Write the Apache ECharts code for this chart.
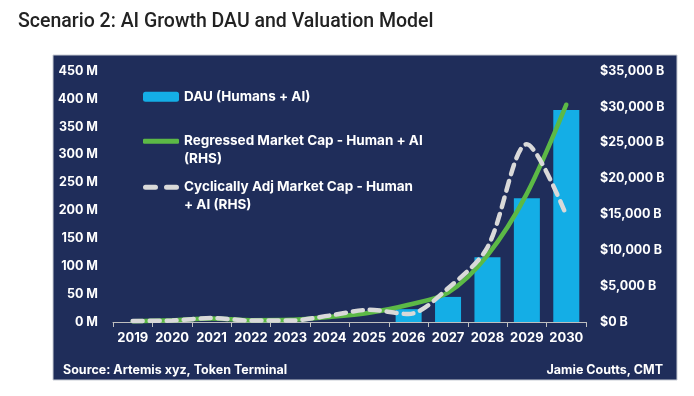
<!DOCTYPE html>
<html><head><meta charset="utf-8">
<script src="https://cdn.jsdelivr.net/npm/echarts@6/dist/echarts.min.js"></script>
<style>html,body{margin:0;padding:0;background:#fff}#c{width:694px;height:396px}</style>
</head><body><div id="c"></div>
<script>
const years = ['2019','2020','2021','2022','2023','2024','2025','2026','2027','2028','2029','2030'];
const dau = [null,null,null,null,null,null,null,23,45,116,222,380];
const regressedCap = [100,250,500,250,300,700,1300,2400,4100,9300,17900,30300];
const cyclicalCap = [150,200,550,200,200,900,1700,1100,4700,10400,24800,14900];
const leftTicks = [0,50,100,150,200,250,300,350,400,450];
const rightTicks = [0,5000,10000,15000,20000,25000,30000,35000];

const FONT = 'Inter';
const chart = echarts.init(document.getElementById('c'));
const legendText = {color:'#fff', fontFamily:FONT, fontWeight:'bold', fontSize:13.5, lineHeight:17.5};
chart.setOption({
  animation:false,
  textStyle:{fontFamily:FONT},
  graphic:[
    {type:'rect', shape:{x:53,y:55,width:624,height:325}, style:{fill:'#1F2D5A', stroke:'#C8CCD4', lineWidth:1}, z:-10, silent:true},
    {type:'text', left:18, top:12, style:{text:'Scenario 2: AI Growth DAU and Valuation Model', fill:'#222', font:'500 19.5px Roboto'}},
    {type:'text', left:63, top:364, style:{text:'Source: Artemis xyz, Token Terminal', fill:'#fff', font:'bold 12.5px Inter'}},
    {type:'text', right:31, top:364, style:{text:'Jamie Coutts, CMT', fill:'#fff', font:'bold 12.5px Inter', align:'right'}}
  ],
  grid:{left:113, right:108, top:71, bottom:74},
  legend:[
    {data:['DAU (Humans + AI)'], left:143, top:88, padding:0, itemWidth:36, itemHeight:10, textStyle:legendText, selectedMode:false},
    {data:['Regressed'], left:143, top:115, padding:0, itemWidth:36, itemHeight:5, textStyle:legendText, selectedMode:false,
      icon:'roundRect', formatter:()=>' \nRegressed Market Cap - Human + AI\n(RHS)'},
    {data:['Cyclical'], left:143, top:161, padding:0, itemWidth:36, itemHeight:5, textStyle:legendText, selectedMode:false,
      icon:'path://M2.5,0 h10 a2.5,2.5 0 0 1 0,5 h-10 a2.5,2.5 0 0 1 0,-5 Z M23.5,0 h10 a2.5,2.5 0 0 1 0,5 h-10 a2.5,2.5 0 0 1 0,-5 Z',
      formatter:()=>' \nCyclically Adj Market Cap - Human\n+ AI (RHS)'}
  ],
  xAxis:{type:'category', data:years, boundaryGap:true,
    axisLine:{lineStyle:{color:'#BFBFBF', width:1}},
    axisTick:{show:true, length:5, interval:0, lineStyle:{color:'#BFBFBF'}},
    axisLabel:{color:'#fff', fontWeight:'bold', fontSize:13, margin:10, interval:0}},
  yAxis:[
    {type:'value', min:0, max:450, interval:50, splitLine:{show:false},
      axisLabel:{color:'#fff', fontWeight:'bold', fontSize:12.5, margin:15, formatter:v=>v+' M'}},
    {type:'value', min:0, max:35000, interval:5000, splitLine:{show:false},
      axisLabel:{color:'#fff', fontWeight:'bold', fontSize:12.5, margin:14,
        formatter:v=>'$'+v.toLocaleString('en-US')+' B'}}
  ],
  series:[
    {name:'DAU (Humans + AI)', type:'bar', data:dau, barCategoryGap:'34%', itemStyle:{color:'#14AEE6'}},
    {name:'Regressed', type:'line', yAxisIndex:1, data:regressedCap, smooth:0.3, symbol:'none',
      lineStyle:{color:'#5CB946', width:4.5, cap:'round'}, itemStyle:{color:'#5CB946'}},
    {name:'Cyclical', type:'line', yAxisIndex:1, data:cyclicalCap, smooth:0.3, symbol:'none',
      lineStyle:{color:'#D9D9D9', width:4.5, type:[10,7], cap:'round'}, itemStyle:{color:'#D9D9D9'}}
  ]
});
</script></body></html>
